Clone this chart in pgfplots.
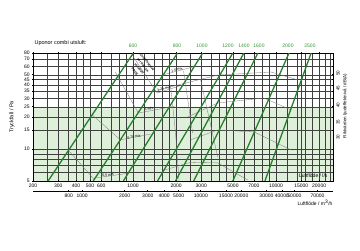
\documentclass[border=0pt]{standalone}
\usepackage{fontspec}
\setmainfont{Liberation Sans}
\usepackage{pgfplots}
\pgfplotsset{compat=1.18}
\definecolor{gline}{RGB}{40,125,45}
\definecolor{glab}{RGB}{55,150,55}
\definecolor{gfill}{RGB}{222,240,218}
\definecolor{thingray}{RGB}{115,115,115}
\begin{document}
\begin{tikzpicture}
\path (0pt,0pt) rectangle (360pt,250pt);
\pgfplotsset{set layers}
\begin{axis}[
  at={(33pt,69pt)}, anchor=south west,
  width=300pt, height=128pt, scale only axis,
  xmode=log, ymode=log,
  xmin=200, xmax=25000, ymin=5, ymax=80,
  xtick={200,300,400,500,600,1000,2000,3000,5000,7000,10000,15000,20000},
  xticklabels={200,300,400,500,600,1000,2000,3000,5000,7000,10000,15000,20000},
  minor xtick={250,350,450,700,800,900,1200,1400,1600,1800,2500,3500,4000,4500,6000,8000,9000,12000,14000,16000,18000,22000,24000},
  ytick={5,10,15,20,25,30,35,40,45,50,60,70,80},
  yticklabels={5,10,15,20,25,30,35,40,45,50,60,70,80},
  minor ytick={6,7,8,9},
  grid=both,
  major grid style={black!75, line width=0.35pt},
  minor grid style={black!75, line width=0.35pt},
  axis line style={black, line width=0.5pt},
  tick style={black, line width=0.7pt},
  major tick length=1.6pt, minor tick length=0pt,
  tick align=center,
  ticklabel style={font=\fontsize{5}{6}\selectfont},
  xticklabel style={yshift=1pt},
  yticklabel style={xshift=1pt},
  clip=true,
]
\addplot[on layer=axis background, draw=none, fill=gfill] coordinates {(200,5) (25000,5) (25000,25) (200,25)} -- cycle;
% thin velocity / level lines
\addplot[thingray, line width=0.3pt] coordinates {(1635,50) (2741,60)};
\addplot[thingray, line width=0.3pt] coordinates {(985,77.1) (1476,33.6) (2257,40.3)};
\addplot[thingray, line width=0.3pt] coordinates {(752,53) (1091,21.8) (1984,25.4)};
\addplot[thingray, line width=0.3pt] coordinates {(519,20.9) (816,12.2) (1325,13.8)};
\addplot[thingray, line width=0.3pt] coordinates {(352,9.8) (527,5.3) (913,5.9)};
\addplot[thingray, line width=0.3pt] coordinates {(2257,54.2) (2612,14.1)};
\addplot[thingray, line width=0.3pt] coordinates {(1830,40) (1984,14.1) (2100,5)};
\addplot[thingray, line width=0.3pt] coordinates {(2971,44.6) (3911,8.4)};
\addplot[thingray, line width=0.3pt] coordinates {(1484,35.9) (3911,49.6) (9208,53) (14250,44.6)};
\addplot[thingray, line width=0.3pt] coordinates {(2408,20) (3911,27.1) (8222,30.2) (12722,23.3)};
\addplot[thingray, line width=0.3pt] coordinates {(2528,12.2) (3911,15.1) (6998,14.5) (12722,9.8)};
\addplot[thingray, line width=0.3pt] coordinates {(1635,6.3) (2528,7.5) (3911,7.4) (6349,5.1)};
% green duct lines
\addplot[gline, line width=1.3pt] coordinates {(255,5) (1006,80)};
\addplot[gline, line width=1.3pt] coordinates {(527,5) (2049,80)};
\addplot[gline, line width=1.3pt] coordinates {(856,5) (3070,80)};
\addplot[gline, line width=1.3pt] coordinates {(1484,5) (4985,80)};
\addplot[gline, line width=1.3pt] coordinates {(1984,5) (5954,80)};
\addplot[gline, line width=1.3pt] coordinates {(2655,5) (7464,80)};
\addplot[gline, line width=1.3pt] coordinates {(4985,5) (12320,80)};
\addplot[gline, line width=1.3pt] coordinates {(8358,5) (17580,80)};
\end{axis}
% second axis (m3/h)
\begin{axis}[
  at={(33pt,59pt)}, anchor=south west,
  width=300pt, height=2pt, scale only axis,
  xmin=-11, xmax=300, ymin=0, ymax=1,
  axis x line*=bottom, hide y axis,
  x axis line style={-, black, line width=0.5pt},
  xtick={26,40,84,108,125,140,163,189,205,231,247,260,284},
  xticklabels={800,1000,2000,3000,4000,5000,10000,15000,20000,30000,40000,50000,70000},
  tick style={black, line width=0.7pt},
  major tick length=1.6pt, tick align=center,
  ticklabel style={font=\fontsize{5}{6}\selectfont},
  xticklabel style={yshift=1pt},
]
\addplot[draw=none] coordinates {(0,0) (10,1)};
\end{axis}
% texts
\node[anchor=west, font=\fontsize{5.5}{6}\selectfont] at (31pt,207pt) {Uponor combi utsluft:};
\node[rotate=90, font=\fontsize{5.5}{6}\selectfont] at (12pt,133pt) {Tryckfall / Pa};
\node[anchor=east, font=\fontsize{5}{6}\selectfont] at (331pt,74pt) {Luftflöde / l/s};
\node[anchor=east, font=\fontsize{5}{6}\selectfont] at (336pt,47pt) {Luftflöde / m\textsuperscript{3}/h};
\node[rotate=90, font=\fontsize{4.5}{5}\selectfont] at (345pt,144pt) {Riktvärden ljudeffektnivå / dB(A)};
\foreach \v/\yy in {50/177,45/162,40/145,35/128,30/113}{
  \node[rotate=90, font=\fontsize{4.5}{5}\selectfont] at (338pt,\yy pt) {\v};
}
\foreach \lab/\xx in {600/133,800/177,1000/202,1200/228,1400/244,1600/259,2000/288,2500/310}{
  \node[text=glab, font=\fontsize{5}{6}\selectfont] at (\xx pt,204pt) {\lab};
}
\node[rotate=-52, align=center, font=\fontsize{3.2}{5.2}\selectfont\bfseries, inner sep=0pt] at (141pt,183pt) {Ljudeffektnivå\\per don Lw\\se tabell\\dB(A)};
\node[font=\fontsize{3.5}{4}\selectfont, rotate=14, inner sep=0.5pt] at (177pt,180pt) {1,5 m/s};
\node[font=\fontsize{3.5}{4}\selectfont, rotate=14, inner sep=0.5pt] at (164pt,161pt) {1,25 m/s};
\node[font=\fontsize{3.5}{4}\selectfont, rotate=10, inner sep=0.5pt] at (149pt,141pt) {1 m/s};
\node[font=\fontsize{3.5}{4}\selectfont, rotate=10, inner sep=0.5pt] at (134pt,113pt) {0,75 m/s};
\node[font=\fontsize{3.5}{4}\selectfont, rotate=8, inner sep=0.5pt] at (108pt,75pt) {0,5 m/s};
\end{tikzpicture}
\end{document}
